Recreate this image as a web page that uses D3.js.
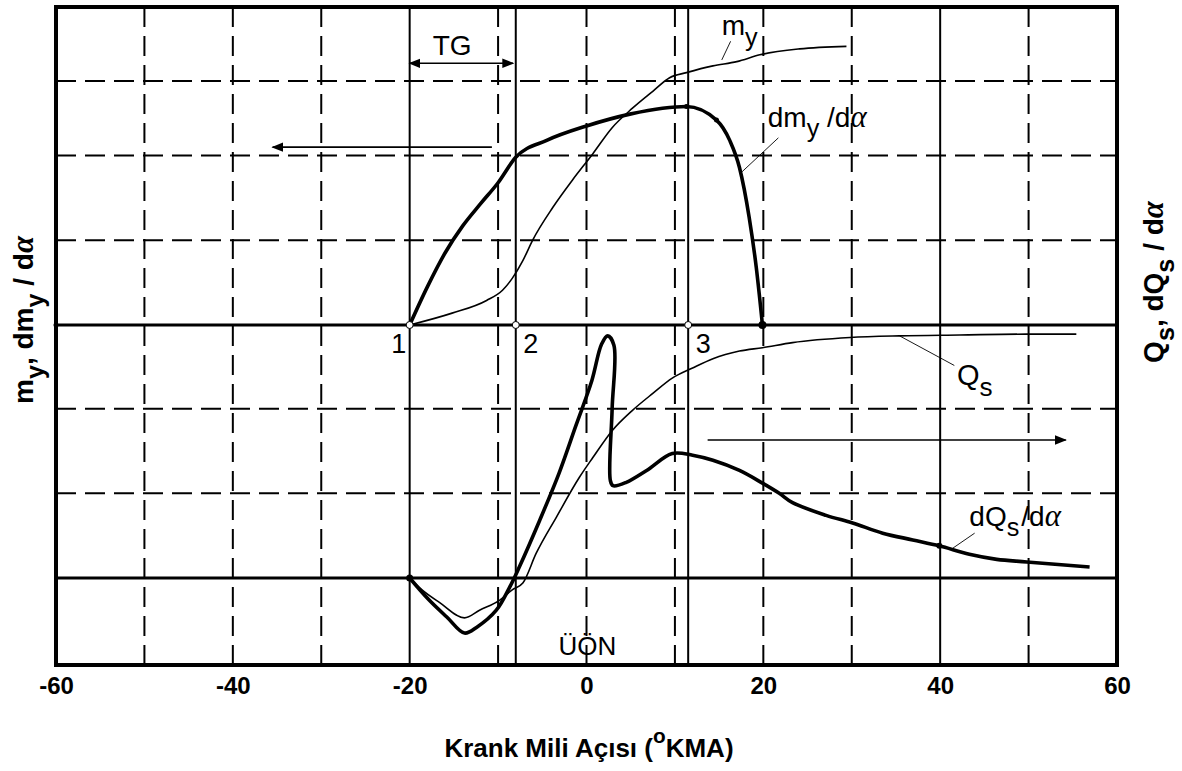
<!DOCTYPE html>
<meta charset="utf-8">
<style>
  body { margin: 0; background: #fff; }
  text { font-family: "Liberation Sans", Arial, sans-serif; fill: #000; }
</style>
<body>
<script src="https://d3js.org/d3.v7.min.js"></script>
<script>
// crank angle ticks and grid positions (deg)
var angleTicks = [-60, -40, -20, 0, 20, 40, 60];
var dashedAngles = [-50, -40, -30, -10, 0, 10, 20, 30, 50];
var solidAngles = [-20, -8, 11.5, 40];
// grid rows, in plot units (left = upper half, right = lower half)
var dashedLeft = [1, 2, 2.88];
var dashedRight = [1, 2];

// m_y (thin, upper)
var myAngle = [-20, -15.2, -11.3, -9.5, -8.4, -7.2, -6.1, -3.8, -1.6, 0.7, 2.9, 5.2, 7.5, 9.4, 11.3, 14.3, 17.0, 19.6, 24.1, 29.4];
var myValue = [0, 0.14, 0.29, 0.41, 0.55, 0.76, 1.0, 1.39, 1.71, 2.02, 2.33, 2.56, 2.76, 2.92, 2.98, 3.06, 3.11, 3.19, 3.26, 3.29];

// dm_y/dalpha (thick, upper)
var dmyAngle = [-20, -18, -16, -14, -12, -10, -8, -4.5, 0, 4.9, 8.6, 11.3, 14.7, 16.2, 17.3, 18.4, 19.2, 19.9];
var dmyValue = [0, 0.45, 0.85, 1.17, 1.43, 1.68, 1.98, 2.18, 2.35, 2.49, 2.56, 2.58, 2.42, 2.18, 1.86, 1.27, 0.68, 0];

// Q_s (thin, lower)
var qsAngle = [-20, -18.6, -16.6, -13.8, -12.1, -9.8, -8.4, -7.2, -5.7, -3.4, -0.8, 0.7, 2.9, 5.2, 7.5, 9.7, 12.0, 14.3, 17.3, 19.9, 23.3, 29.8, 35.4, 42.2, 49.8, 55.4];
var qsValue = [0, -0.14, -0.29, -0.47, -0.38, -0.26, -0.14, -0.06, 0.29, 0.72, 1.19, 1.42, 1.74, 1.98, 2.18, 2.36, 2.48, 2.59, 2.68, 2.72, 2.78, 2.84, 2.86, 2.87, 2.88, 2.88];

// dQ_s/dalpha (thick, lower)
var dqsAngle = [-20, -17.8, -15.8, -13.8, -12.4, -10.2, -8.7, -7.6, -5.3, -3.1, -1.2, 0.6, 1.7, 2.4, 3.1, 2.9, 2.7, 3.0, 4.5, 6.8, 9.7, 12.0, 14.3, 17.3, 19.9, 21.8, 23.3, 27.1, 30.1, 33.5, 36.9, 39.9, 43.3, 46.4, 49.8, 56.9];
var dqsValue = [0, -0.26, -0.46, -0.65, -0.58, -0.38, -0.11, 0.13, 0.68, 1.24, 1.8, 2.33, 2.76, 2.86, 2.75, 2.0, 1.15, 1.09, 1.13, 1.27, 1.47, 1.45, 1.39, 1.27, 1.12, 1.0, 0.89, 0.74, 0.65, 0.53, 0.45, 0.38, 0.28, 0.22, 0.19, 0.13];

// points 1,2,3 on the upper zero line
var pointAngles = [-20, -8, 11.5];
var pointNames = ["1", "2", "3"];

var svg = d3.select("body").append("svg")
  .attr("width", 1182).attr("height", 771);

var x = d3.scaleLinear().domain([-60, 60]).range([56, 1117]),
    yL = d3.scaleLinear().domain([-4.015, 3.755]).range([665, 7]),
    yR = d3.scaleLinear().domain([-1.027, 6.743]).range([665, 7]);

var defs = svg.append("defs");
defs.append("marker").attr("id", "head").attr("viewBox", "0 0 10 10")
  .attr("refX", 9).attr("refY", 5).attr("markerWidth", 12).attr("markerHeight", 12)
  .attr("markerUnits", "userSpaceOnUse").attr("orient", "auto-start-reverse")
  .append("path").attr("d", "M0,1 L10,5 L0,9 Z").attr("fill", "#000");

var grid = svg.append("g");
// vertical grid
grid.selectAll(".vd").data(dashedAngles).enter().append("line")
  .attr("x1", d => x(d)).attr("x2", d => x(d))
  .attr("y1", 7).attr("y2", 665)
  .attr("stroke", "#000").attr("stroke-width", 2).attr("stroke-dasharray", "20,9");
grid.selectAll(".vs").data(solidAngles).enter().append("line")
  .attr("x1", d => x(d)).attr("x2", d => x(d))
  .attr("y1", 7).attr("y2", 665)
  .attr("stroke", "#000").attr("stroke-width", 2);
// horizontal grid
grid.selectAll(".hl").data(dashedLeft).enter().append("line")
  .attr("x1", 56).attr("x2", 1117)
  .attr("y1", d => yL(d)).attr("y2", d => yL(d))
  .attr("stroke", "#000").attr("stroke-width", 2).attr("stroke-dasharray", "20,9");
grid.selectAll(".hr").data(dashedRight).enter().append("line")
  .attr("x1", 56).attr("x2", 1117)
  .attr("y1", d => yR(d)).attr("y2", d => yR(d))
  .attr("stroke", "#000").attr("stroke-width", 2).attr("stroke-dasharray", "20,9");
// zero lines
[yL(0), yR(0)].forEach(function(yy) {
  grid.append("line").attr("x1", 56).attr("x2", 1117).attr("y1", yy).attr("y2", yy)
    .attr("stroke", "#000").attr("stroke-width", 3);
});

// frame
svg.append("rect").attr("x", 56).attr("y", 7).attr("width", 1117 - 56).attr("height", 665 - 7)
  .attr("fill", "none").attr("stroke", "#000").attr("stroke-width", 4);

// x axis labels
var xAxis = d3.axisBottom(x).tickValues(angleTicks).tickSize(0).tickPadding(12)
  .tickFormat(d => String(d));
var ax = svg.append("g").attr("transform", "translate(0,665)").call(xAxis);
ax.select(".domain").remove();
ax.selectAll("text").style("font-family", "'Liberation Sans', Arial, sans-serif")
  .attr("font-size", 24).attr("font-weight", "bold").attr("fill", "#000");

// curves
function curve(angles, values, ys, w, kind) {
  var line = d3.line().x((d, i) => x(angles[i])).y((d, i) => ys(values[i])).curve(kind);
  svg.append("path").attr("d", line(angles)).attr("fill", "none")
    .attr("stroke", "#000").attr("stroke-width", w).attr("stroke-linejoin", "round");
}
curve(myAngle, myValue, yL, 1.6, d3.curveMonotoneX);
curve(dmyAngle, dmyValue, yL, 3.6, d3.curveMonotoneX);
curve(qsAngle, qsValue, yR, 1.6, d3.curveMonotoneX);
curve(dqsAngle, dqsValue, yR, 3.6, d3.curveCatmullRom.alpha(0.5));

// markers
svg.selectAll(".pt").data(pointAngles).enter().append("circle")
  .attr("cx", d => x(d)).attr("cy", yL(0)).attr("r", 3.5)
  .attr("fill", "#fff").attr("stroke", "#000").attr("stroke-width", 1);
svg.append("circle").attr("cx", x(dmyAngle[dmyAngle.length - 1])).attr("cy", yL(0)).attr("r", 4);
svg.append("circle").attr("cx", x(dmyAngle[11])).attr("cy", yL(dmyValue[11])).attr("r", 2.5);
svg.append("circle").attr("cx", x(dmyAngle[12])).attr("cy", yL(dmyValue[12])).attr("r", 2.5);
svg.append("circle").attr("cx", x(-20)).attr("cy", yR(0)).attr("r", 3.5);
svg.append("circle").attr("cx", x(dqsAngle[31])).attr("cy", yR(dqsValue[31])).attr("r", 3);
svg.append("circle").attr("cx", 56).attr("cy", yL(0)).attr("r", 2.5);

svg.selectAll(".pn").data(pointNames).enter().append("text")
  .attr("x", (d, i) => x(pointAngles[i]) + (i === 0 ? -11 : 15))
  .attr("y", 353).attr("text-anchor", "middle").attr("font-size", 27).text(d => d);

// arrows
function arrow(a0, a1, yy, both) {
  var l = svg.append("line").attr("x1", x(a0)).attr("x2", x(a1)).attr("y1", yy).attr("y2", yy)
    .attr("stroke", "#000").attr("stroke-width", 1.6).attr("marker-end", "url(#head)");
  if (both) l.attr("marker-start", "url(#head)");
}
arrow(-20, -8.3, yL(3.09), true);
arrow(-10.7, -35.5, yL(2.1), false);
arrow(13.7, 54.2, yR(1.63), false);

// leader lines
function leader(a0, v0, a1, v1, ys) {
  svg.append("line").attr("x1", x(a0)).attr("y1", ys(v0)).attr("x2", x(a1)).attr("y2", ys(v1))
    .attr("stroke", "#000").attr("stroke-width", 0.9);
}
leader(16.3, 3.35, 15.3, 3.13, yL);
leader(21.7, 2.21, 17.6, 1.81, yL);
leader(35.4, 2.86, 41.6, 2.51, yR);
leader(43.9, 0.53, 41.4, 0.35, yR);

// rich labels: parts with sub / italic flags
function rich(sel, parts, size) {
  parts.forEach(function(p) {
    var t = sel.append("tspan").text(p.t);
    if (p.sub) t.attr("dy", size * 0.38).attr("font-size", size * 0.9);
    if (p.up) t.attr("dy", -size * 0.38);
    if (p.it) t.attr("font-style", "italic").attr("font-family", "'Liberation Serif', serif")
      .attr("font-size", size * 1.1);
    if (p.sup) t.attr("dy", -size * 0.55).attr("font-size", size * 0.8);
    if (p.down) t.attr("dy", size * 0.55);
    if (p.dx) t.attr("dx", p.dx);
  });
  return sel;
}
var al = String.fromCharCode(945);

rich(svg.append("text").attr("x", x(15.3)).attr("y", yL(3.42)).attr("font-size", 28),
  [{t: "m"}, {t: "y", sub: true}], 28);
rich(svg.append("text").attr("x", x(20.5)).attr("y", yL(2.34)).attr("font-size", 28),
  [{t: "dm"}, {t: "y", sub: true}, {t: " /d", up: true}, {t: al, it: true}], 28);
rich(svg.append("text").attr("x", x(41.9)).attr("y", yR(2.28)).attr("font-size", 29),
  [{t: "Q"}, {t: "s", sub: true}], 29);
rich(svg.append("text").attr("x", x(43.3)).attr("y", yR(0.62)).attr("font-size", 28),
  [{t: "dQ"}, {t: "s", sub: true}, {t: "/d", up: true, dx: 2}, {t: al, it: true}], 28);

svg.append("text").attr("x", x(-15.2)).attr("y", yL(3.19)).attr("text-anchor", "middle")
  .attr("font-size", 28).text("TG");
svg.append("text").attr("x", x(0.1)).attr("y", yR(-0.91)).attr("text-anchor", "middle")
  .attr("font-size", 26).text("ÜÖN");

// axis titles
rich(svg.append("text").attr("x", 589).attr("y", 757).attr("text-anchor", "middle")
  .attr("font-size", 26).attr("font-weight", "bold"),
  [{t: "Krank Mili Açısı ("}, {t: "o", sup: true}, {t: "KMA)", down: true}], 26);

rich(svg.append("text").attr("transform", "translate(33,320) rotate(-90)")
  .attr("text-anchor", "middle").attr("font-size", 28).attr("font-weight", "bold"),
  [{t: "m"}, {t: "y", sub: true}, {t: ", dm", up: true}, {t: "y", sub: true}, {t: " / d", up: true}, {t: al, it: true}], 28);

rich(svg.append("text").attr("transform", "translate(1163,282) rotate(-90)")
  .attr("text-anchor", "middle").attr("font-size", 28).attr("font-weight", "bold"),
  [{t: "Q"}, {t: "s", sub: true}, {t: ", dQ", up: true}, {t: "s", sub: true}, {t: " / d", up: true}, {t: al, it: true}], 28);
</script>
</body>
